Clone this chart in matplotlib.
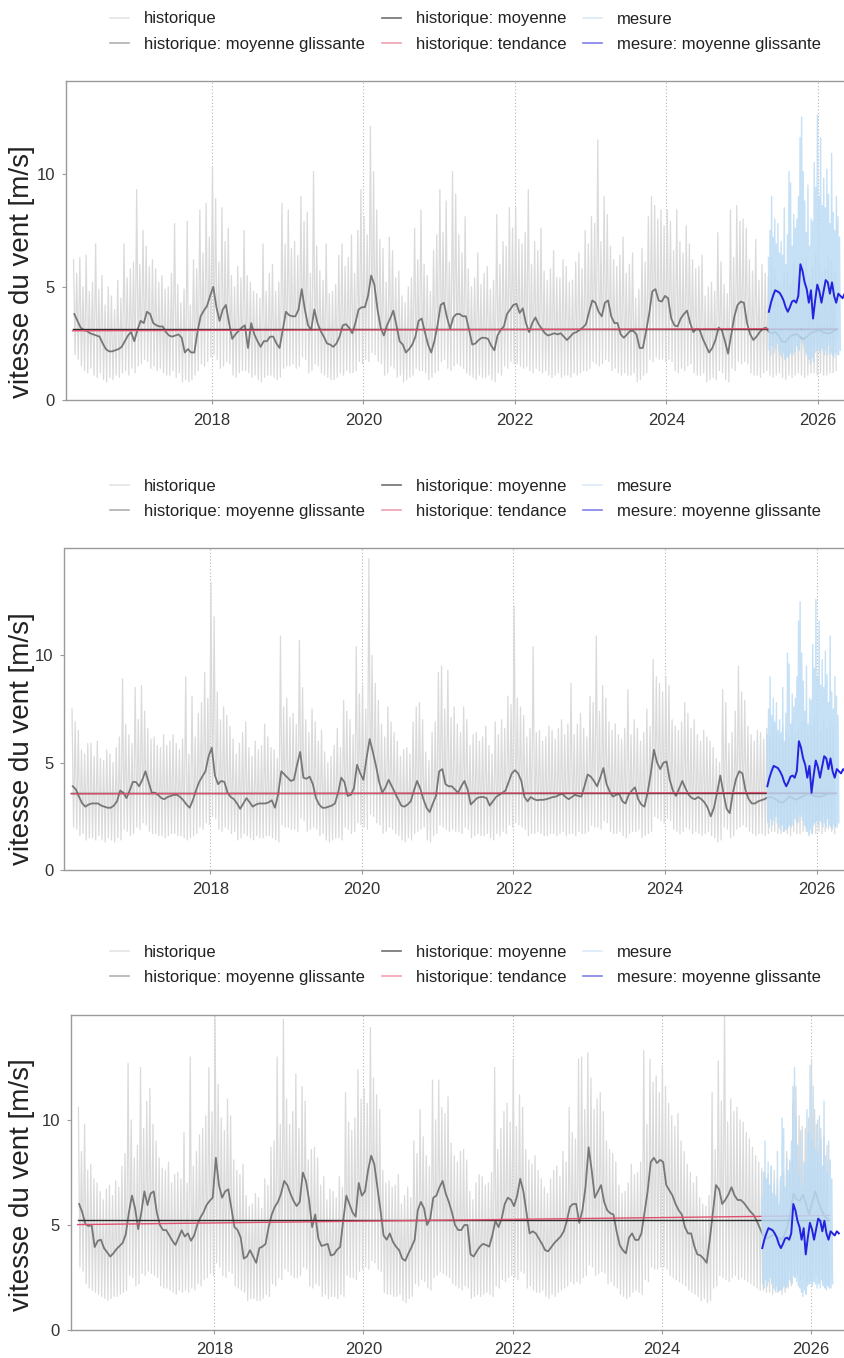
import numpy as np
import matplotlib
matplotlib.use("Agg")
import matplotlib.pyplot as plt
from matplotlib.lines import Line2D

plt.rcParams["font.family"] = ["Liberation Sans", "DejaVu Sans"]

# ---------------------------------------------------------------------------
# Donnees
# historique journalier : 4 valeurs par mois (haut, bas, haut, bas),
# de mars 2016 a mars 2026 ; moyenne glissante : 2 valeurs par mois
# ---------------------------------------------------------------------------
hist_brut_1 = [
    6.2, 2.0, 5.6, 1.8, 6.3, 1.5, 5.0, 1.3, 6.4, 1.2, 4.8, 1.4, 5.2, 1.1, 6.9, 1.0, 4.9, 1.2, 5.5, 0.9,
    4.2, 0.8, 5.0, 1.0, 4.6, 0.9, 4.0, 1.1, 5.3, 1.0, 4.5, 1.2, 6.9, 1.3, 5.4, 1.1, 5.8, 1.4, 6.1, 1.2,
    9.3, 1.5, 6.0, 1.6, 7.5, 1.8, 6.8, 1.7, 5.9, 1.4, 6.2, 1.5, 5.8, 1.3, 5.2, 1.4, 5.5, 1.2, 4.9, 1.1,
    5.0, 1.1, 5.6, 1.3, 7.8, 1.0, 5.1, 1.2, 4.3, 0.8, 4.9, 0.9, 7.9, 0.8, 4.2, 0.9, 6.2, 1.1, 5.8, 1.3,
    8.4, 1.6, 6.5, 1.5, 8.7, 1.7, 7.2, 1.9,
    10.3, 2.0, 8.9, 1.8, 6.1, 1.4, 8.5, 1.5, 7.0, 1.7, 7.6, 1.6, 5.5, 1.1, 5.0, 1.0, 5.9, 1.2, 5.4, 1.3,
    7.5, 1.3, 5.5, 1.2, 5.2, 1.0, 4.8, 1.1, 4.7, 0.9, 4.5, 0.8, 6.9, 1.0, 4.8, 1.1, 5.6, 1.1, 6.0, 1.0,
    4.8, 0.9, 5.2, 1.0, 8.7, 1.4, 6.9, 1.5,
    8.4, 1.5, 6.7, 1.6, 7.0, 1.4, 6.4, 1.5, 9.0, 1.9, 7.9, 1.8, 8.3, 1.2, 5.6, 1.3, 10.1, 1.6, 6.8, 1.5,
    5.7, 1.2, 5.3, 1.1, 6.9, 1.0, 4.7, 0.9, 4.8, 0.9, 5.1, 1.0, 6.4, 1.2, 6.9, 1.1, 5.9, 1.3, 6.3, 1.2,
    7.3, 1.2, 5.6, 1.3, 7.5, 1.7, 9.3, 1.6,
    8.1, 1.8, 7.3, 1.7, 12.1, 2.1, 10.1, 2.0, 8.4, 1.7, 7.1, 1.6, 6.7, 1.1, 5.2, 1.2, 7.2, 1.5, 6.6, 1.4,
    5.4, 1.0, 5.7, 1.1, 4.6, 0.8, 4.3, 0.9, 5.0, 1.0, 5.4, 1.1, 7.6, 1.4, 6.2, 1.3, 8.4, 1.3, 6.0, 1.2,
    5.5, 0.9, 4.8, 1.0, 6.6, 1.2, 7.3, 1.3,
    9.3, 1.7, 7.4, 1.8, 8.8, 1.4, 6.1, 1.3, 10.1, 1.5, 9.1, 1.6, 7.3, 1.5, 6.5, 1.4, 8.1, 1.2, 5.8, 1.1,
    5.0, 1.0, 5.4, 0.9, 6.5, 1.1, 5.1, 1.0, 5.6, 1.0, 5.9, 1.1, 4.9, 0.9, 5.3, 0.8, 8.2, 1.2, 6.0, 1.1,
    7.0, 1.5, 6.8, 1.4, 8.5, 1.7, 7.6, 1.6,
    8.5, 1.6, 7.1, 1.5, 6.9, 1.4, 7.4, 1.5, 9.3, 1.3, 6.0, 1.2, 7.0, 1.4, 6.6, 1.3, 7.6, 1.2, 5.7, 1.3,
    5.3, 1.1, 5.8, 1.0, 6.6, 1.1, 5.4, 1.2, 5.4, 1.0, 6.2, 1.1, 5.9, 1.1, 5.2, 1.0, 5.3, 1.2, 6.1, 1.1,
    6.5, 1.2, 5.8, 1.3, 7.5, 1.3, 6.9, 1.4,
    8.1, 1.7, 7.8, 1.6, 11.5, 1.5, 7.0, 1.6, 9.0, 1.8, 8.2, 1.7, 6.8, 1.3, 6.2, 1.4, 5.9, 1.2, 6.4, 1.1,
    7.2, 1.2, 5.6, 1.1, 6.0, 1.1, 6.5, 1.2, 4.5, 0.8, 4.9, 0.9, 6.7, 1.1, 6.1, 1.2, 8.1, 1.8, 9.0, 1.7,
    8.6, 1.9, 8.0, 1.8, 8.4, 1.8, 7.7, 1.7,
    8.4, 1.8, 7.9, 1.7, 6.6, 1.3, 8.4, 1.2, 7.0, 1.4, 6.5, 1.3, 7.7, 1.5, 6.9, 1.6, 6.2, 1.2, 5.8, 1.1,
    5.9, 1.1, 6.4, 1.2, 4.6, 0.8, 5.0, 0.9, 5.2, 1.0, 4.8, 0.9, 7.4, 1.3, 6.1, 1.2, 5.1, 0.9, 4.7, 0.8,
    8.4, 1.4, 6.3, 1.3, 8.6, 1.7, 7.9, 1.6,
    8.0, 1.7, 7.6, 1.6, 6.2, 1.2, 5.7, 1.1, 7.1, 1.1, 5.3, 1.0, 6.0, 1.2, 5.6, 1.3, 5.5, 1.1, 6.3, 1.0,
    5.8, 1.1, 5.2, 1.2, 5.0, 1.0, 5.6, 0.9, 5.7, 1.1, 5.1, 1.0, 6.0, 1.1, 5.5, 1.2, 5.4, 1.1, 6.2, 1.0,
    6.3, 1.1, 5.4, 1.2, 5.9, 1.2, 6.5, 1.1,
    6.1, 1.2, 5.6, 1.1, 5.8, 1.1, 6.4, 1.2, 6.2, 1.2, 5.7, 1.3,
]
hist_mg_1 = [
    3.8, 3.5, 3.2, 3.1, 3.05, 2.95, 2.9, 2.85, 2.8, 2.5, 2.25, 2.15, 2.15, 2.2, 2.25, 2.35, 2.6, 2.85, 3.0, 2.6,
    3.1, 3.5, 3.4, 3.9, 3.8, 3.4, 3.3, 3.25, 3.25, 3.0, 2.85, 2.8, 2.85, 2.9, 2.75, 2.1, 2.25, 2.1, 2.1, 3.0,
    3.7, 3.95, 4.15, 4.6,
    5.0, 4.1, 3.5, 4.0, 4.2, 3.4, 2.7, 2.9, 3.05, 3.2, 3.3, 2.3, 3.4, 2.9, 2.6, 2.35, 2.6, 2.6, 2.8, 2.8,
    2.5, 2.3, 3.1, 3.9,
    3.75, 3.7, 3.7, 4.0, 4.9, 4.0, 3.3, 3.1, 4.0, 3.4, 3.05, 2.8, 2.5, 2.45, 2.35, 2.5, 2.8, 3.3, 3.35, 3.2,
    2.95, 3.4, 4.0, 4.1,
    4.1, 4.6, 5.5, 5.1, 4.0, 3.2, 2.85, 3.3, 3.6, 3.95, 3.3, 2.6, 2.45, 2.1, 2.25, 2.45, 2.8, 3.5, 3.6, 3.0,
    2.45, 2.1, 2.6, 3.3,
    4.2, 4.3, 3.65, 3.15, 3.65, 3.8, 3.8, 3.7, 3.7, 3.1, 2.45, 2.5, 2.65, 2.75, 2.75, 2.7, 2.4, 2.2, 2.85, 3.1,
    3.25, 3.8, 4.0, 4.2,
    4.25, 3.85, 4.05, 3.4, 3.0, 3.4, 3.65, 3.35, 3.15, 2.95, 2.85, 2.9, 2.95, 2.9, 2.95, 2.8, 2.65, 2.8, 2.95, 3.0,
    3.1, 3.2, 3.35, 3.9,
    4.4, 4.3, 3.9, 3.7, 4.3, 4.4, 3.7, 3.4, 3.4, 2.9, 2.75, 2.9, 3.05, 3.05, 2.9, 2.3, 2.3, 3.0, 3.8, 4.8,
    4.9, 4.4, 4.35, 4.6,
    4.5, 3.6, 3.3, 3.25, 3.6, 3.8, 3.95, 3.4, 3.0, 3.15, 3.1, 2.7, 2.4, 2.1, 2.3, 2.65, 3.2, 3.1, 2.6, 2.05,
    2.9, 3.7, 4.2, 4.35,
    4.3, 3.4, 2.9, 2.65, 2.8, 3.0, 3.15, 3.2, 3.0, 2.95, 3.0, 2.85, 2.6, 2.55, 2.7, 2.85, 2.9, 2.9, 2.75, 2.7,
    2.8, 2.95, 3.0, 3.05,
    3.1, 3.0, 2.95, 2.95, 3.0, 3.1,
]

hist_brut_2 = [
    7.5, 2.0, 6.9, 1.9, 6.5, 1.6, 5.6, 1.7, 5.4, 1.4, 5.9, 1.5, 5.9, 1.5, 5.3, 1.4, 6.0, 1.6, 5.2, 1.4,
    5.1, 1.3, 5.6, 1.5, 5.4, 1.4, 5.0, 1.3, 5.7, 1.5, 6.2, 1.4, 8.9, 1.9, 6.8, 1.8, 6.3, 1.6, 5.9, 1.7,
    8.5, 2.0, 7.0, 1.9, 8.6, 2.2, 7.4, 2.1, 6.6, 1.8, 6.1, 1.7, 6.2, 1.7, 5.8, 1.6, 5.7, 1.6, 6.3, 1.5,
    5.8, 1.6, 6.0, 1.7, 6.3, 1.7, 5.9, 1.6, 5.6, 1.6, 6.1, 1.5, 9.0, 1.4, 5.4, 1.5, 8.1, 1.6, 6.2, 1.7,
    7.3, 2.0, 7.8, 1.9, 9.2, 2.2, 8.0, 2.1,
    13.4, 2.5, 11.8, 2.4, 8.3, 1.9, 7.0, 1.8, 7.6, 2.0, 7.2, 1.9, 6.7, 1.7, 6.1, 1.8, 5.4, 1.4, 5.9, 1.5,
    6.4, 1.7, 6.9, 1.6, 5.7, 1.5, 5.3, 1.4, 6.0, 1.6, 5.6, 1.5, 5.8, 1.5, 6.8, 1.6, 6.2, 1.6, 5.7, 1.5,
    5.6, 1.4, 5.2, 1.3, 10.9, 2.1, 7.6, 2.0,
    8.0, 2.0, 7.1, 1.9, 7.3, 1.9, 6.8, 1.8, 10.7, 2.4, 8.5, 2.3, 7.0, 1.8, 6.4, 1.9, 7.5, 2.0, 6.9, 1.9,
    6.0, 1.6, 6.5, 1.7, 5.5, 1.4, 5.0, 1.3, 5.3, 1.4, 5.8, 1.5, 6.6, 1.5, 5.7, 1.4, 7.9, 2.0, 7.4, 1.9,
    7.0, 1.7, 6.3, 1.8, 10.4, 2.2, 8.2, 2.1,
    8.6, 2.0, 7.5, 1.9, 14.5, 2.6, 10.0, 2.5, 8.7, 2.2, 7.9, 2.1, 6.8, 1.7, 6.2, 1.8, 7.6, 2.0, 6.9, 1.9,
    6.4, 1.7, 6.0, 1.6, 5.3, 1.4, 5.6, 1.3, 5.7, 1.5, 5.4, 1.4, 6.9, 1.7, 7.6, 1.8, 7.8, 1.9, 7.0, 2.0,
    5.5, 1.4, 5.1, 1.3, 6.4, 1.6, 6.9, 1.7,
    9.2, 2.1, 9.5, 2.0, 7.5, 1.9, 9.3, 1.8, 7.1, 1.9, 7.6, 1.8, 6.8, 1.8, 6.4, 1.7, 7.6, 2.0, 7.0, 1.9,
    5.8, 1.5, 6.3, 1.6, 6.4, 1.7, 6.0, 1.6, 6.2, 1.6, 6.7, 1.7, 5.8, 1.5, 5.4, 1.4, 6.9, 1.7, 6.3, 1.6,
    7.0, 1.8, 6.6, 1.7, 8.1, 2.1, 7.7, 2.0,
    12.3, 2.2, 8.0, 2.1, 7.6, 2.0, 7.2, 1.9, 6.2, 1.6, 6.6, 1.7, 10.4, 1.7, 6.4, 1.8, 6.5, 1.7, 6.0, 1.6,
    6.2, 1.6, 6.7, 1.7, 6.5, 1.7, 6.1, 1.6, 6.6, 1.7, 7.0, 1.8, 6.3, 1.6, 6.8, 1.7, 8.7, 1.7, 6.3, 1.6,
    6.8, 1.8, 7.3, 1.7, 6.6, 1.7, 6.2, 1.8,
    8.1, 2.1, 7.8, 2.0, 10.9, 2.0, 7.4, 1.9, 8.6, 2.3, 8.0, 2.2, 6.9, 1.8, 6.5, 1.7, 6.8, 1.7, 6.3, 1.8,
    6.1, 1.6, 6.6, 1.5, 8.4, 1.7, 6.3, 1.8, 7.0, 1.8, 6.6, 1.9, 6.0, 1.5, 6.4, 1.6, 7.5, 1.7, 6.7, 1.8,
    9.8, 2.5, 9.0, 2.4, 8.7, 2.3, 8.3, 2.2,
    9.0, 2.4, 8.6, 2.3, 7.0, 1.9, 6.7, 1.8, 6.5, 1.7, 6.9, 1.8, 7.8, 2.0, 7.3, 1.9, 6.6, 1.7, 7.0, 1.8,
    6.3, 1.7, 6.0, 1.6, 6.5, 1.7, 6.2, 1.8, 6.0, 1.6, 5.7, 1.5, 5.2, 1.3, 5.0, 1.4, 8.4, 2.0, 7.8, 1.9,
    5.9, 1.5, 6.4, 1.6, 7.4, 1.9, 9.5, 2.0,
    8.3, 2.1, 7.9, 2.0, 6.7, 1.8, 6.3, 1.7, 6.0, 1.6, 6.5, 1.7, 6.4, 1.7, 6.1, 1.6, 6.6, 1.7, 6.2, 1.8,
    6.7, 1.8, 6.4, 1.7, 6.3, 1.7, 6.7, 1.8, 6.5, 1.7, 6.2, 1.6, 6.8, 1.8, 6.4, 1.7, 6.6, 1.7, 6.9, 1.8,
    7.0, 1.8, 6.5, 1.7, 6.7, 1.8, 7.1, 1.7,
    6.8, 1.8, 6.5, 1.7, 7.0, 1.8, 6.6, 1.9, 6.9, 1.8, 6.7, 1.7,
]
hist_mg_2 = [
    3.9, 3.75, 3.4, 3.1, 2.95, 3.05, 3.1, 3.1, 3.1, 3.0, 2.95, 2.9, 2.9, 3.0, 3.2, 3.7, 3.6, 3.35, 3.7, 4.1,
    4.1, 3.9, 4.2, 4.6, 4.1, 3.6, 3.6, 3.5, 3.35, 3.3, 3.4, 3.45, 3.5, 3.5, 3.4, 3.25, 3.05, 2.9, 3.25, 3.7,
    4.1, 4.35, 4.6, 5.3,
    5.7, 4.4, 4.0, 4.15, 4.1, 3.6, 3.4, 3.3, 3.1, 2.85, 3.1, 3.35, 3.15, 2.95, 3.05, 3.1, 3.1, 3.1, 3.15, 3.25,
    2.9, 3.5, 4.6, 4.45,
    4.3, 4.15, 4.2, 4.9, 5.5, 4.3, 4.25, 4.35, 4.0, 3.35, 3.05, 2.9, 2.9, 2.95, 3.0, 3.1, 3.6, 4.3, 4.1, 3.45,
    3.5, 3.8, 4.9, 4.5,
    4.2, 5.2, 6.1, 5.5, 4.85, 4.1, 3.6, 3.85, 4.2, 3.9, 3.6, 3.3, 3.0, 2.95, 3.05, 3.2, 3.7, 4.15, 3.8, 3.3,
    2.9, 2.7, 3.1, 3.45,
    4.6, 4.7, 4.0, 3.9, 3.9, 3.75, 3.6, 3.9, 4.15, 3.75, 3.05, 3.2, 3.35, 3.4, 3.4, 3.35, 3.0, 3.2, 3.4, 3.5,
    3.6, 3.7, 4.1, 4.5,
    4.65, 4.5, 4.15, 3.4, 3.2, 3.4, 3.3, 3.25, 3.27, 3.27, 3.3, 3.35, 3.4, 3.42, 3.5, 3.55, 3.4, 3.3, 3.4, 3.5,
    3.45, 3.42, 3.9, 4.45,
    4.35, 4.15, 3.9, 4.3, 4.75, 4.0, 3.65, 3.42, 3.5, 3.55, 3.2, 3.1, 3.5, 3.7, 3.85, 3.3, 3.05, 2.95, 3.6, 4.5,
    5.6, 5.0, 4.7, 5.0,
    5.05, 4.2, 3.7, 3.45, 3.8, 4.15, 3.8, 3.5, 3.35, 3.3, 3.4, 3.3, 3.15, 2.9, 2.5, 2.9, 3.6, 4.4, 3.6, 2.85,
    2.65, 3.6, 4.25, 4.6,
    4.5, 3.7, 3.3, 3.1, 3.1, 3.2, 3.25, 3.3, 3.38, 3.4, 3.35, 3.25, 3.15, 3.15, 3.3, 3.42, 3.35, 3.27, 3.35, 3.42,
    3.5, 3.57, 3.5, 3.43,
    3.42, 3.42, 3.48, 3.55, 3.58, 3.58,
]

hist_brut_3 = [
    10.6, 3.0, 8.5, 2.8, 9.8, 2.2, 7.6, 2.0, 7.9, 1.9, 7.2, 1.8, 7.0, 1.7, 6.6, 1.6, 6.2, 1.5, 6.7, 1.4,
    6.9, 1.5, 6.4, 1.6, 7.1, 1.6, 6.8, 1.7, 7.8, 1.8, 8.4, 1.9, 12.7, 2.6, 10.0, 2.5, 8.2, 2.1, 8.8, 2.2,
    12.5, 2.7, 9.6, 2.6, 10.9, 2.8, 11.5, 2.7, 9.8, 2.6, 9.0, 2.5, 8.2, 2.1, 7.7, 2.0, 7.6, 2.0, 8.0, 1.9,
    7.0, 1.8, 7.4, 1.7, 7.5, 1.9, 7.2, 1.8, 9.4, 1.9, 7.0, 1.8, 13.0, 2.0, 7.8, 1.9, 8.5, 2.2, 9.3, 2.1,
    9.6, 2.4, 10.2, 2.5, 12.5, 2.7, 10.4, 2.6,
    14.9, 3.2, 11.7, 3.0, 10.1, 2.6, 9.5, 2.5, 11.0, 2.8, 10.2, 2.7, 8.1, 2.1, 7.6, 2.0, 7.4, 1.9, 7.9, 1.8,
    6.4, 1.4, 5.9, 1.5, 6.0, 1.5, 6.5, 1.4, 6.3, 1.4, 5.8, 1.5, 7.2, 1.7, 6.9, 1.6, 8.7, 2.2, 9.0, 2.1,
    13.0, 2.5, 9.8, 2.4, 14.8, 2.9, 11.0, 2.8,
    9.8, 2.6, 10.4, 2.5, 12.2, 2.5, 9.6, 2.6, 11.6, 3.0, 10.9, 2.9, 8.1, 2.1, 8.6, 2.0, 8.7, 2.2, 8.2, 2.1,
    6.9, 1.6, 7.3, 1.7, 6.2, 1.5, 6.7, 1.6, 6.6, 1.6, 6.3, 1.5, 7.3, 1.7, 6.8, 1.6, 11.3, 2.6, 9.9, 2.5,
    9.5, 2.5, 10.1, 2.4, 12.4, 2.8, 11.0, 2.9,
    11.5, 3.0, 10.8, 2.9, 14.4, 3.3, 12.0, 3.2, 11.2, 2.9, 10.5, 2.8, 7.6, 1.8, 7.0, 1.7, 7.1, 1.7, 6.8, 1.6,
    6.9, 1.6, 7.4, 1.7, 6.0, 1.4, 6.4, 1.3, 6.8, 1.5, 6.3, 1.6, 9.0, 2.2, 8.4, 2.1, 10.5, 2.4, 9.2, 2.3,
    8.3, 2.0, 7.8, 1.9, 11.9, 2.5, 10.0, 2.6,
    11.9, 2.8, 10.6, 2.7, 10.3, 2.6, 11.1, 2.5, 8.9, 2.2, 8.3, 2.1, 8.0, 2.0, 8.5, 1.9, 8.6, 2.1, 8.1, 2.0,
    6.6, 1.5, 6.2, 1.6, 7.0, 1.7, 7.4, 1.6, 7.3, 1.7, 6.9, 1.8, 7.0, 1.7, 7.5, 1.6, 12.5, 2.1, 8.6, 2.0,
    9.6, 2.4, 10.4, 2.3, 10.8, 2.5, 9.9, 2.6,
    12.9, 2.5, 9.7, 2.4, 11.2, 2.8, 10.6, 2.7, 8.6, 2.0, 8.1, 2.1, 7.9, 1.9, 8.3, 1.8, 7.6, 1.8, 7.2, 1.9,
    6.8, 1.6, 6.5, 1.5, 7.2, 1.7, 7.6, 1.6, 7.8, 1.8, 7.3, 1.9, 8.5, 2.0, 8.0, 2.1, 10.6, 2.3, 9.4, 2.2,
    9.1, 2.3, 12.9, 2.2, 13.0, 2.5, 10.5, 2.6,
    13.2, 3.1, 12.0, 3.0, 10.5, 2.6, 11.0, 2.7, 11.3, 2.8, 10.4, 2.7, 9.0, 2.2, 8.6, 2.3, 8.4, 2.1, 8.0, 2.0,
    6.9, 1.7, 6.5, 1.6, 6.6, 1.5, 7.0, 1.6, 7.9, 1.8, 7.4, 1.9, 7.5, 1.8, 8.0, 1.7, 13.3, 2.4, 9.8, 2.3,
    12.9, 3.0, 11.8, 2.9, 12.1, 2.9, 11.3, 3.0,
    12.6, 3.0, 11.6, 2.9, 10.8, 2.6, 10.2, 2.5, 9.7, 2.4, 10.3, 2.3, 9.0, 2.2, 8.5, 2.1, 7.9, 1.9, 7.5, 1.8,
    7.0, 1.7, 7.3, 1.6, 6.3, 1.4, 6.0, 1.5, 5.9, 1.3, 6.4, 1.4, 11.3, 2.0, 8.6, 2.1, 12.8, 2.6, 10.9, 2.5,
    15.5, 2.4, 9.9, 2.3, 11.0, 2.5, 10.4, 2.6,
    10.6, 2.4, 10.0, 2.5, 9.9, 2.4, 9.4, 2.3, 9.1, 2.2, 8.7, 2.1, 8.3, 2.0, 8.0, 1.9, 7.7, 1.9, 7.3, 1.8,
    7.4, 1.8, 7.8, 1.7, 7.6, 1.8, 7.2, 1.9, 7.1, 1.7, 7.5, 1.8, 8.5, 2.0, 8.1, 2.1, 10.8, 2.5, 11.6, 2.6,
    10.2, 2.4, 9.7, 2.5, 9.6, 2.3, 10.1, 2.2,
    12.8, 2.5, 10.5, 2.6, 10.0, 2.4, 9.6, 2.3, 9.2, 2.2, 8.8, 2.1,
]
hist_mg_3 = [
    6.0, 5.6, 5.05, 4.95, 5.0, 3.95, 4.25, 4.3, 3.9, 3.7, 3.5, 3.65, 3.85, 4.0, 4.15, 4.55, 5.6, 6.4, 5.8, 4.8,
    5.6, 6.6, 5.95, 6.5, 6.6, 5.6, 5.0, 4.76, 4.76, 4.5, 4.25, 4.05, 4.4, 4.75, 4.45, 4.6, 4.25, 4.5, 5.0, 5.35,
    5.6, 5.95, 6.15, 6.3,
    8.2, 6.9, 6.3, 6.6, 6.7, 5.8, 4.9, 4.76, 4.4, 3.4, 3.5, 3.8, 3.5, 3.2, 3.9, 3.97, 4.1, 4.9, 5.5, 5.87,
    6.1, 6.5, 7.1, 6.9,
    6.5, 6.15, 5.9, 6.1, 7.5, 7.1, 6.2, 4.9, 5.5, 4.35, 4.0, 4.05, 4.1, 3.55, 3.6, 3.82, 3.95, 5.2, 6.4, 6.0,
    5.6, 5.4, 7.0, 6.4,
    6.6, 7.6, 8.3, 7.9, 6.8, 5.7, 4.5, 4.3, 4.6, 4.2, 3.97, 3.8, 3.4, 3.3, 3.65, 3.95, 4.3, 5.7, 6.1, 5.8,
    5.0, 5.3, 6.3, 6.4,
    6.8, 7.1, 6.5, 6.1, 5.6, 5.0, 4.76, 4.76, 5.0, 5.0, 3.6, 3.5, 3.75, 3.97, 4.1, 4.05, 3.97, 4.5, 5.2, 4.9,
    5.3, 6.0, 6.3, 6.2,
    5.9, 6.4, 7.2, 6.6, 5.6, 4.6, 4.7, 4.6, 4.35, 4.1, 3.8, 3.75, 3.95, 4.15, 4.3, 4.45, 4.7, 5.2, 5.87, 6.0,
    6.0, 5.1, 5.7, 6.8,
    8.7, 7.6, 6.3, 6.6, 6.9, 6.1, 5.7, 5.56, 5.5, 4.7, 4.05, 3.8, 3.65, 4.4, 4.6, 4.29, 4.29, 4.6, 5.6, 6.6,
    8.0, 8.2, 7.95, 8.1,
    8.0, 6.9, 6.65, 6.4, 6.0, 5.7, 5.5, 4.9, 4.6, 4.6, 4.0, 3.6, 3.55, 3.4, 3.2, 4.3, 5.6, 6.9, 6.7, 6.0,
    6.2, 6.45, 6.8, 6.4,
    6.19, 6.19, 6.05, 5.85, 5.65, 5.5, 5.24, 4.9, 4.55, 4.35, 4.4, 4.5, 4.55, 4.4, 4.3, 4.5, 4.95, 5.6, 6.5, 6.2,
    6.15, 6.45, 6.0, 5.5,
    6.1, 6.6, 6.1, 5.7, 5.4, 5.3,
]

# moyenne et tendance lineaire (debut, fin) de l'historique
moyenne = [3.14, 3.60, 5.22]
tendance_debut = [3.06, 3.55, 5.02]
tendance_fin = [3.16, 3.61, 5.45]

# mesures : 8 valeurs par mois (haut, bas, ...) a partir de mai 2025,
# moyenne glissante tous les 10 jours
mesure_brut = [
    6.3, 2.2, 7.5, 2.0, 9.0, 2.4, 7.2, 2.1,
    8.0, 2.3, 6.9, 2.5, 7.8, 2.2, 6.5, 2.0,
    7.0, 1.9, 6.4, 2.1, 8.5, 1.8, 6.0, 1.9,
    7.3, 1.9, 10.1, 2.0, 9.6, 2.1, 6.8, 2.0,
    8.2, 2.1, 7.6, 2.4, 8.0, 2.3, 9.0, 2.2,
    11.6, 2.6, 12.5, 2.5, 10.1, 2.3, 8.8, 2.1,
    7.4, 2.0, 9.5, 1.8, 6.8, 1.6, 8.0, 1.9,
    7.9, 1.7, 10.5, 2.1, 9.4, 2.2, 12.6, 2.3,
    9.0, 2.1, 11.6, 2.3, 8.6, 2.2, 9.8, 2.0,
    8.5, 2.2, 10.2, 2.0, 9.1, 2.4, 7.8, 2.1,
    10.9, 2.0, 8.3, 1.9, 7.5, 2.1, 9.0, 2.0,
    8.1, 2.0, 7.2, 2.2,
]
mesure_mg = [
    3.9, 4.3, 4.6, 4.85, 4.8, 4.75, 4.6, 4.4, 4.1, 3.9,
    4.1, 4.35, 4.4, 4.3, 4.6, 6.0, 5.7, 5.2, 4.9, 4.3,
    4.85, 3.6, 4.4, 5.1, 4.8, 4.3, 4.8, 5.3, 5.2, 4.7,
    5.2, 4.6, 4.3, 4.7, 4.6, 4.5, 4.7, 4.6,
]

annees = [2018, 2020, 2022, 2024, 2026]

# ---------------------------------------------------------------------------
# Mise en page (pixels de la figure 845 x 1358)
# ---------------------------------------------------------------------------
W, H = 845, 1358
cadres = [(66, 81, 856, 400), (64.5, 548, 854.5, 870), (71, 1015, 848, 1330)]
y_max = [14.1, 15.0, 15.0]
y_legende = [11.5, 478.5, 945.0]
y_titre = [272, 739, 1185]

c_brut = "#dadada"
c_mg = "#777777"
c_moy = "#2b2b2b"
c_tend = "#e0506e"
c_mes = "#bcdcf5"
c_mes_mg = "#2323e0"

debut_hist = 2016 + 2 / 12
debut_mes = 2025.34

fig = plt.figure(figsize=(W / 100, H / 100), dpi=100)

series = [(hist_brut_1, hist_mg_1), (hist_brut_2, hist_mg_2), (hist_brut_3, hist_mg_3)]
for i, (brut, mg) in enumerate(series):
    l, t, r, b = cadres[i]
    ax = fig.add_axes([l / W, 1 - b / H, (r - l) / W, (b - t) / H])

    t_brut = debut_hist + (np.arange(len(brut)) + 0.5) / 48
    t_mg = debut_hist + (np.arange(len(mg)) + 0.5) / 24
    fin_hist = debut_hist + len(mg) / 24
    t_mes = debut_mes + (np.arange(len(mesure_brut)) + 0.5) / 96
    t_mes_mg = debut_mes + 0.01 + np.arange(len(mesure_mg)) / 36

    ax.plot(t_brut, brut, color=c_brut, lw=0.9, zorder=1)
    ax.plot(t_mg, mg, color=c_mg, lw=1.3, zorder=3)
    ax.plot([debut_hist, fin_hist], [moyenne[i]] * 2, color=c_moy, lw=1.0, zorder=4)
    ax.plot([debut_hist, fin_hist], [tendance_debut[i], tendance_fin[i]],
            color=c_tend, lw=1.0, zorder=4)
    ax.plot(t_mes, mesure_brut, color=c_mes, lw=1.0, alpha=0.85, zorder=5)
    ax.plot(t_mes_mg, mesure_mg, color=c_mes_mg, lw=1.4, zorder=6)

    ax.set_xlim(2016.078, 2026.5)
    ax.set_ylim(0, y_max[i])
    ax.set_xticks(annees)
    ax.set_xticklabels([str(a) for a in annees])
    ax.set_yticks([0, 5, 10])
    for a in annees:
        ax.axvline(a, color="#b5b5b5", lw=0.8, ls=(0, (1, 2)), zorder=0)
    for s in ax.spines.values():
        s.set_color("#9a9a9a")
        s.set_linewidth(1.0)
    ax.tick_params(colors="#9a9a9a", labelcolor="#333333", labelsize=12,
                   length=3, width=0.8)
    ax.tick_params(axis="x", pad=6)
    ax.tick_params(axis="y", pad=5)

    fig.text(22.5 / W, 1 - y_titre[i] / H, "vitesse du vent [m/s]", rotation=90,
             ha="center", va="center", fontsize=20, color="#222222")

    poignees = [
        Line2D([], [], color="#e4e4e4", lw=1.2),
        Line2D([], [], color="#b0b0b0", lw=1.2),
        Line2D([], [], color="#6f6f6f", lw=1.2),
        Line2D([], [], color="#f0a0b0", lw=1.2),
        Line2D([], [], color="#dbeaf7", lw=1.2),
        Line2D([], [], color="#8080e8", lw=1.2),
    ]
    etiquettes = ["historique", "historique: moyenne glissante",
                  "historique: moyenne", "historique: tendance",
                  "mesure", "mesure: moyenne glissante"]
    ax.legend(poignees, etiquettes, ncol=3, loc="upper left",
              bbox_to_anchor=(110 / W, 1 - y_legende[i] / H),
              bbox_transform=fig.transFigure, frameon=False, fontsize=12,
              handlelength=1.15, handletextpad=0.9, columnspacing=1.0,
              labelspacing=0.6, borderpad=0, borderaxespad=0,
              labelcolor="#222222")

fig.savefig("out.png", dpi=100)
